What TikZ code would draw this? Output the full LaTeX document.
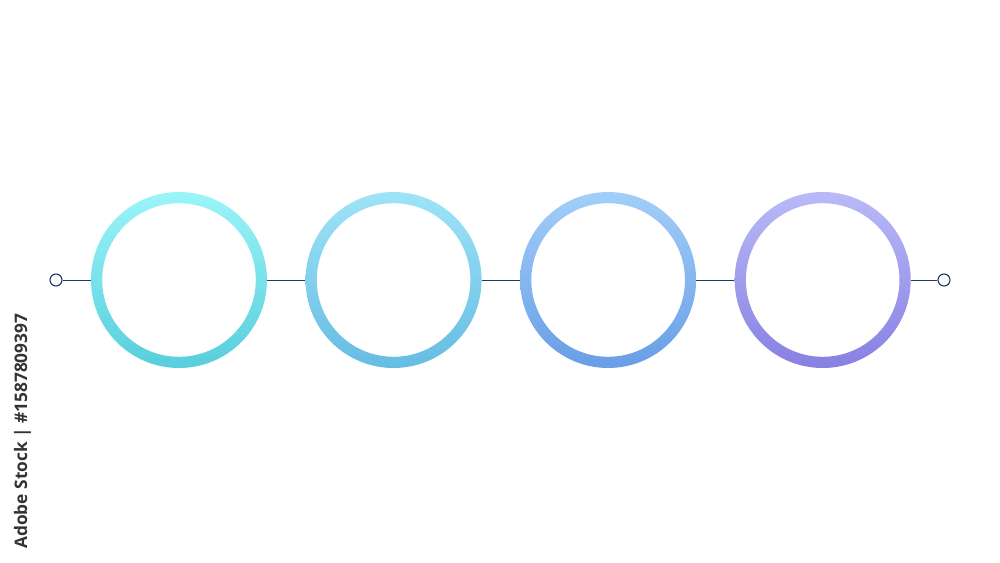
\documentclass[tikz,border=0pt]{standalone}
\usepackage{fontspec}
\setsansfont{Open Sans}
\usetikzlibrary{positioning}

\definecolor{ringAtop}{HTML}{9AF5F8}
\definecolor{ringAbot}{HTML}{58CEDC}
\definecolor{ringBtop}{HTML}{9EE4F8}
\definecolor{ringBbot}{HTML}{66BCE2}
\definecolor{ringCtop}{HTML}{A2CEF9}
\definecolor{ringCbot}{HTML}{689EE6}
\definecolor{ringDtop}{HTML}{B8BAF8}
\definecolor{ringDbot}{HTML}{8880E2}
\definecolor{linknavy}{HTML}{1E3A66}
\definecolor{stamp}{HTML}{333333}

\tikzset{
  ringslot/.style={circle, minimum size=4.4cm, inner sep=0pt, draw=none},
  endcap/.style={circle, minimum size=0.3cm, inner sep=0pt, draw=linknavy, line width=0.8pt, fill=white},
  link/.style={draw=linknavy, line width=0.6pt}
}

\begin{document}
\begin{tikzpicture}
    \useasboundingbox (0,0) rectangle (25,14.05);

    \node[ringslot] (r1) at (4.475,7.05) {};
    \node[ringslot, right=0.95cm of r1] (r2) {};
    \node[ringslot, right=0.95cm of r2] (r3) {};
    \node[ringslot, right=0.95cm of r3] (r4) {};

    \node[endcap] (e1) at (1.4,7.05) {};
    \node[endcap] (e2) at (23.6,7.05) {};

    \draw[link] (e1) -- (r1.west);
    \draw[link] (r1.east) -- (r2.west);
    \draw[link] (r2.east) -- (r3.west);
    \draw[link] (r3.east) -- (r4.west);
    \draw[link] (r4.east) -- (e2);

    \shade[top color=ringAtop, bottom color=ringAbot, even odd rule]
        (r1.center) circle (2.2cm) (r1.center) circle (1.92cm);
    \shade[top color=ringBtop, bottom color=ringBbot, even odd rule]
        (r2.center) circle (2.2cm) (r2.center) circle (1.92cm);
    \shade[top color=ringCtop, bottom color=ringCbot, even odd rule]
        (r3.center) circle (2.2cm) (r3.center) circle (1.92cm);
    \shade[top color=ringDtop, bottom color=ringDbot, even odd rule]
        (r4.center) circle (2.2cm) (r4.center) circle (1.92cm);

    \node[rotate=90, text=stamp, font=\sffamily\bfseries\fontsize{12.3}{14}\selectfont, inner sep=0pt]
        (stock) at (0.56,3.27) {Adobe Stock | \#1587809397};
\end{tikzpicture}
\end{document}
